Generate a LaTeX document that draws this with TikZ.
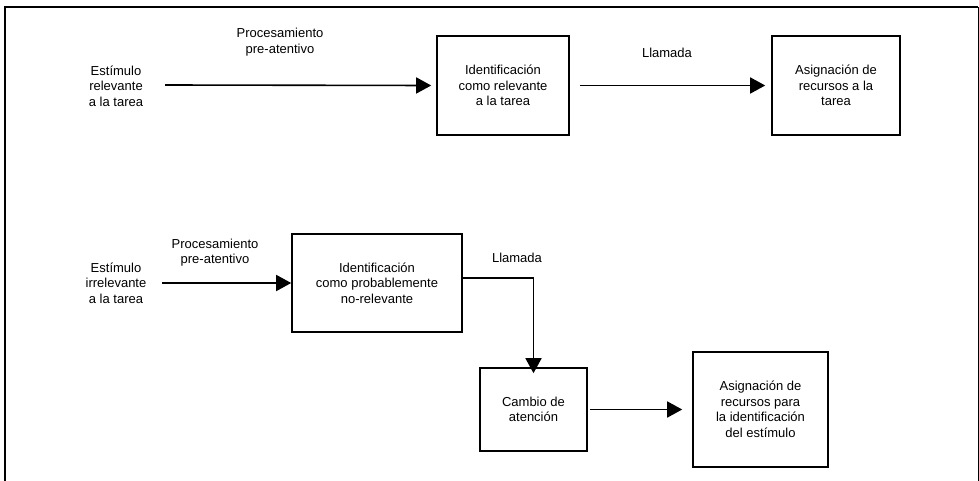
\documentclass[tikz,border=0pt]{standalone}
\usepackage{fontspec}
\setmainfont{Liberation Sans}
\usetikzlibrary{arrows.meta}
\begin{document}
\begin{tikzpicture}[x=1pt,y=-1pt,
  box/.style={draw,line width=1.6pt,inner sep=0pt,align=center,font=\fontsize{13}{15.5}\selectfont},
  lbl/.style={inner sep=0pt,align=center,font=\fontsize{13}{15.5}\selectfont},
  arr/.style={line width=1.6pt,-{Triangle[length=15pt,width=16pt]}}]
\useasboundingbox (0,0) rectangle (979,481);
\draw[line width=1.8pt] (5,485) -- (5,7) -- (978,7);
\draw[line width=0.8pt] (978,7) -- (978,485);
% top row
\node[lbl] (s1) at (116,86) {Estímulo\\relevante\\a la tarea};
\node[lbl] (p1) at (280,42) {Procesamiento\\pre-atentivo};
\node[box,minimum width=132pt,minimum height=99pt] (b1) at (503,85.5) {Identificación\\como relevante\\a la tarea};
\node[lbl] (l1) at (667,53) {Llamada};
\node[box,minimum width=128pt,minimum height=99pt] (b2) at (836,85.5) {Asignación de\\recursos a la\\tarea};
\coordinate (a1s) at (165,85);
\draw[arr] (a1s) -- ([xshift=-5pt]b1.west);
\draw[arr] ([xshift=10pt]b1.east) -- ([xshift=-6pt]b2.west);
% bottom row
\node[lbl] (s2) at (116,283) {Estímulo\\irrelevante\\a la tarea};
\node[lbl] (p2) at (215,252.5) {Procesamiento\\pre-atentivo};
\node[box,minimum width=170pt,minimum height=98pt] (b3) at (377,283) {Identificación\\como probablemente\\no-relevante};
\node[lbl] (l2) at (517,258) {Llamada};
\node[box,minimum width=107pt,minimum height=83pt] (b4) at (533.5,409.5) {Cambio de\\atención};
\node[box,minimum width=135pt,minimum height=115pt] (b5) at (760.5,409.5) {Asignación de\\recursos para\\la identificación\\del estímulo};
\coordinate (a3s) at (162,283);
\draw[arr] (a3s) -- (b3.west);
\draw[arr] ([yshift=5pt]b3.east) -| ([yshift=-6pt]b4.north);
\draw[arr] ([xshift=2pt]b4.east) -- ([xshift=-10pt]b5.west);
\end{tikzpicture}
\end{document}
